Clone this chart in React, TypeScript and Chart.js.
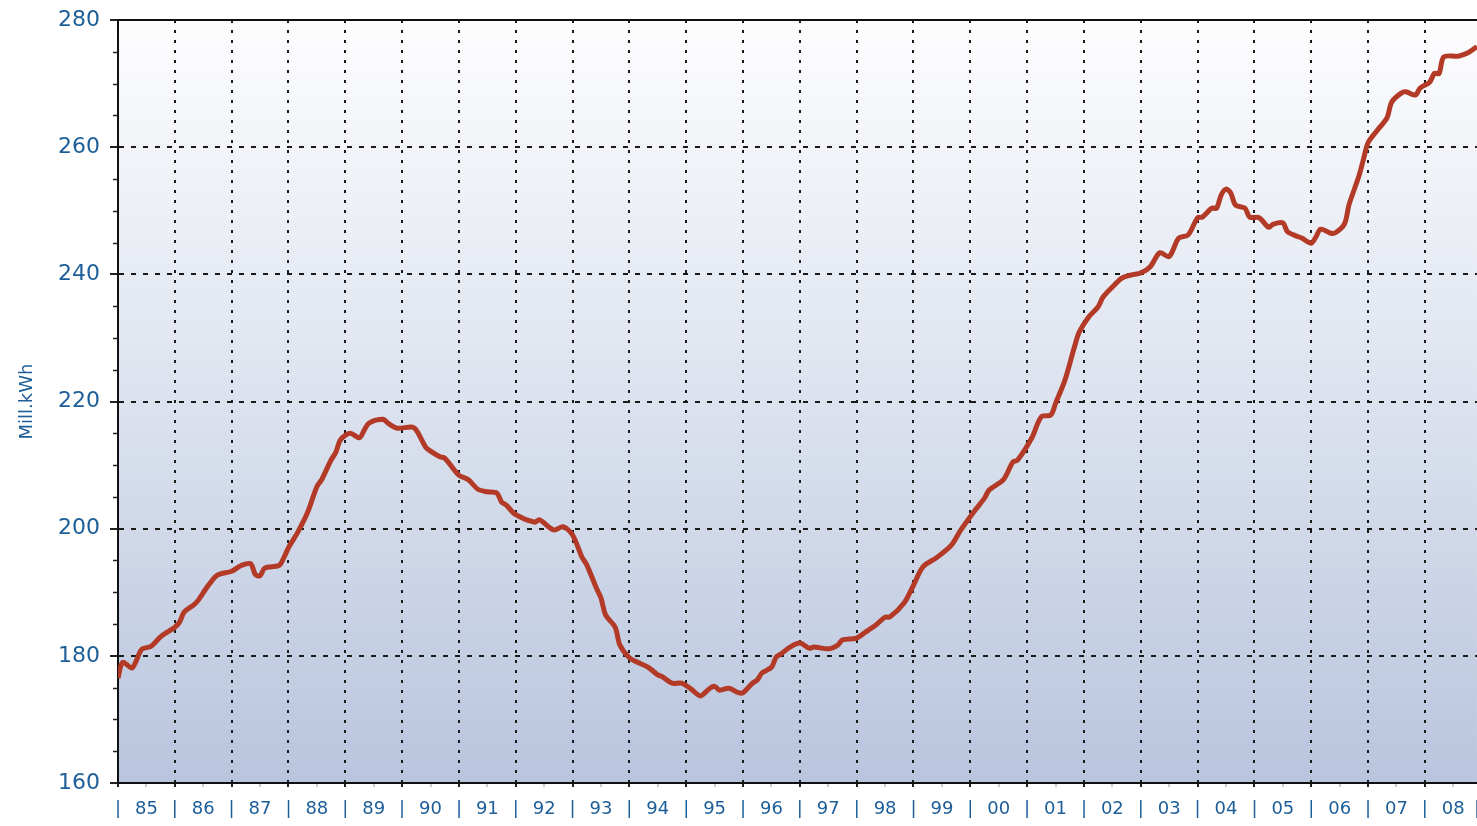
import React, { useEffect, useRef } from "react";
import { Chart, registerables } from "chart.js";

Chart.register(...registerables);

// Months since January 1985
const months = [
  0, 1, 3, 5, 7, 9, 12, 13, 14, 16, 17, 19, 21, 24, 26, 28, 29, 30, 31, 34,
  35, 36, 38, 40, 42, 43, 45, 46, 47, 49, 51, 52, 53, 56, 57, 59, 62, 63, 65, 66,
  68, 69, 72, 74, 76, 78, 80, 81, 82, 84, 88, 89, 92, 94, 96, 98, 99, 101, 102, 103,
  105, 106, 108, 110, 112, 114, 115, 117, 119, 121, 123, 125, 126, 127, 129, 131, 132, 134, 135, 136,
  138, 139, 140, 142, 144, 146, 147, 150, 152, 153, 156, 158, 160, 162, 163, 166, 168, 170, 173, 176,
  178, 181, 183, 184, 187, 189, 190, 193, 195, 197, 198, 200, 202, 203, 205, 207, 208, 210, 212, 214,
  216, 218, 220, 222, 224, 226, 228, 229, 231, 232, 233, 234, 235, 236, 238, 239, 241, 243, 244, 246,
  247, 249, 250, 252, 253, 254, 256, 257, 259, 260, 262, 263, 264, 266, 268, 269, 271, 272, 274, 275,
  277, 278, 279, 280, 283, 285, 287,
];

// Electricity consumption, Mill. kWh
const consumption = [
  176.5, 179.0, 178.1, 181.0, 181.5, 183.0, 184.5, 185.3, 186.9, 188.0, 188.8, 191.0, 192.7, 193.3, 194.2, 194.5, 192.8, 192.6, 193.8, 194.2,
  195.4, 197.0, 199.5, 202.5, 206.6, 207.7, 210.8, 212.0, 214.0, 215.0, 214.3, 215.5, 216.6, 217.2, 216.6, 215.8, 216.0, 215.5, 212.8, 212.2,
  211.3, 211.1, 208.4, 207.7, 206.2, 205.8, 205.6, 204.2, 203.7, 202.2, 201.0, 201.4, 199.8, 200.3, 199.0, 195.5, 194.3, 190.7, 189.1, 186.4,
  184.5, 181.7, 179.7, 178.9, 178.2, 177.0, 176.7, 175.7, 175.7, 174.8, 173.7, 174.9, 175.2, 174.6, 174.9, 174.2, 174.2, 175.7, 176.2, 177.3,
  178.2, 179.8, 180.3, 181.4, 182.0, 181.2, 181.4, 181.1, 181.7, 182.5, 182.8, 183.8, 184.8, 186.1, 186.1, 188.3, 191.1, 194.0, 195.5, 197.4,
  199.8, 202.9, 204.8, 206.1, 207.7, 210.5, 210.8, 214.3, 217.6, 217.9, 219.7, 223.4, 228.6, 230.9, 233.3, 234.9, 236.4, 238.0, 239.4, 239.9,
  240.2, 241.2, 243.4, 242.8, 245.7, 246.2, 248.9, 249.0, 250.4, 250.4, 252.5, 253.4, 252.8, 250.9, 250.4, 249.0, 248.9, 247.4, 247.9, 248.1,
  246.7, 246.0, 245.7, 244.9, 245.9, 247.1, 246.5, 246.5, 247.9, 251.0, 255.3, 258.0, 260.7, 262.7, 264.6, 267.1, 268.5, 268.7, 268.2, 269.3,
  270.2, 271.6, 271.6, 274.2, 274.3, 274.8, 275.8,
];

const yearLabels = [
  "85", "86", "87", "88", "89", "90", "91", "92", "93", "94", "95", "96",
  "97", "98", "99", "00", "01", "02", "03", "04", "05", "06", "07", "08",
];

const yMin = 160;
const yMax = 280;
const yMajorStep = 20;
const yMinorStep = 5;
const xMax = 287;
const yTitle = "Mill.kWh";

const BLUE = "#1d5e98";
const GRID = "#1a1a1a";

const decorPlugin = {
  id: "decor",
  beforeDraw(chart: any) {
    const { ctx, chartArea: a } = chart;
    const g = ctx.createLinearGradient(0, a.top, 0, a.bottom);
    g.addColorStop(0, "#fdfdfe");
    g.addColorStop(0.5, "#dce2ee");
    g.addColorStop(1, "#b9c5de");
    ctx.save();
    ctx.fillStyle = g;
    ctx.fillRect(a.left, a.top, a.right - a.left, a.bottom - a.top);
    ctx.restore();
  },
  beforeDatasetsDraw(chart: any) {
    const { ctx, chartArea: a, scales } = chart;
    const y = scales.y;
    ctx.save();
    ctx.strokeStyle = "#222";
    ctx.lineWidth = 1.5;
    for (let v = yMin; v <= yMax; v += yMinorStep) {
      if (v % yMajorStep === 0) continue;
      const py = Math.round(y.getPixelForValue(v)) + 0.5;
      ctx.beginPath();
      ctx.moveTo(a.left - 5, py);
      ctx.lineTo(a.left, py);
      ctx.stroke();
    }
    ctx.lineWidth = 2;
    ctx.strokeStyle = "#111";
    ctx.beginPath();
    ctx.moveTo(a.left, a.top);
    ctx.lineTo(a.right, a.top);
    ctx.stroke();
    ctx.restore();
  },
};

export default function App() {
  const ref = useRef<HTMLCanvasElement | null>(null);

  useEffect(() => {
    if (!ref.current) return;
    const points = months.map((m, i) => ({ x: m, y: consumption[i] }));
    const chart = new Chart(ref.current, {
      type: "line",
      data: {
        datasets: [
          {
            data: points,
            borderColor: "#b23a27",
            borderWidth: 5,
            pointRadius: 0,
            tension: 0.3,
            fill: false,
          },
        ],
      },
      options: {
        responsive: false,
        animation: false,
        layout: { padding: { top: 20, left: 0, right: 0, bottom: 0 } },
        plugins: { legend: { display: false }, tooltip: { enabled: false } },
        scales: {
          x: {
            type: "linear",
            min: 0,
            max: xMax,
            afterFit: (s: any) => {
              s.height = 43;
            },
            afterBuildTicks: (s: any) => {
              const t: any[] = [];
              yearLabels.forEach((_, i) => {
                t.push({ value: i * 12 });
                if (i * 12 + 6 <= xMax) t.push({ value: i * 12 + 6 });
              });
              t.push({ value: xMax });
              s.ticks = t;
            },
            ticks: {
              autoSkip: false,
              maxRotation: 0,
              minRotation: 0,
              padding: 12,
              color: BLUE,
              font: { family: "DejaVu Sans", size: 18 },
              callback: (v: any) => {
                const n = Number(v);
                if (n === xMax || n % 12 === 0) return "|";
                return yearLabels[(n - 6) / 12] ?? "";
              },
            },
            grid: {
              color: (c: any) =>
                c.tick && c.tick.value % 12 === 0 && c.tick.value !== xMax ? GRID : "rgba(0,0,0,0)",
              lineWidth: 2,
              tickLength: 4,
              tickWidth: (c: any) => (c.tick && c.tick.value % 12 === 0 ? 2 : 1),
              tickColor: (c: any) =>
                c.tick && c.tick.value % 12 === 0 ? "#222" : c.tick && c.tick.value === xMax ? "rgba(0,0,0,0)" : "#999",
            },
            border: { display: true, color: "#111", width: 2, dash: [3, 7] },
          },
          y: {
            type: "linear",
            min: yMin,
            max: yMax,
            afterFit: (s: any) => {
              s.width = 118;
            },
            ticks: {
              stepSize: yMinorStep,
              autoSkip: false,
              padding: 10,
              color: BLUE,
              font: { family: "DejaVu Sans", size: 22, lineHeight: 0.8 },
              callback: (v: any) => (Number(v) % yMajorStep === 0 ? String(v) : ""),
            },
            grid: {
              color: (c: any) =>
                c.tick && c.tick.value % yMajorStep === 0 && c.tick.value !== yMin ? GRID : "rgba(0,0,0,0)",
              lineWidth: 2,
              tickLength: 8,
              tickWidth: 2,
              tickColor: (c: any) => (c.tick && c.tick.value % yMajorStep === 0 ? "#222" : "rgba(0,0,0,0)"),
            },
            border: { display: true, color: "#111", width: 2, dash: [5, 7] },
            title: {
              display: true,
              text: yTitle,
              color: BLUE,
              font: { family: "DejaVu Sans", size: 18 },
              padding: { top: 17, bottom: 0 },
            },
          },
        },
      },
      plugins: [decorPlugin],
    } as any);
    return () => chart.destroy();
  }, []);

  return (
    <div
      style={{
        position: "fixed",
        left: 0,
        top: 0,
        width: 1477,
        height: 826,
        overflow: "hidden",
        background: "#fff",
      }}
    >
      <canvas ref={ref} width={1492} height={826} style={{ display: "block" }} />
    </div>
  );
}
